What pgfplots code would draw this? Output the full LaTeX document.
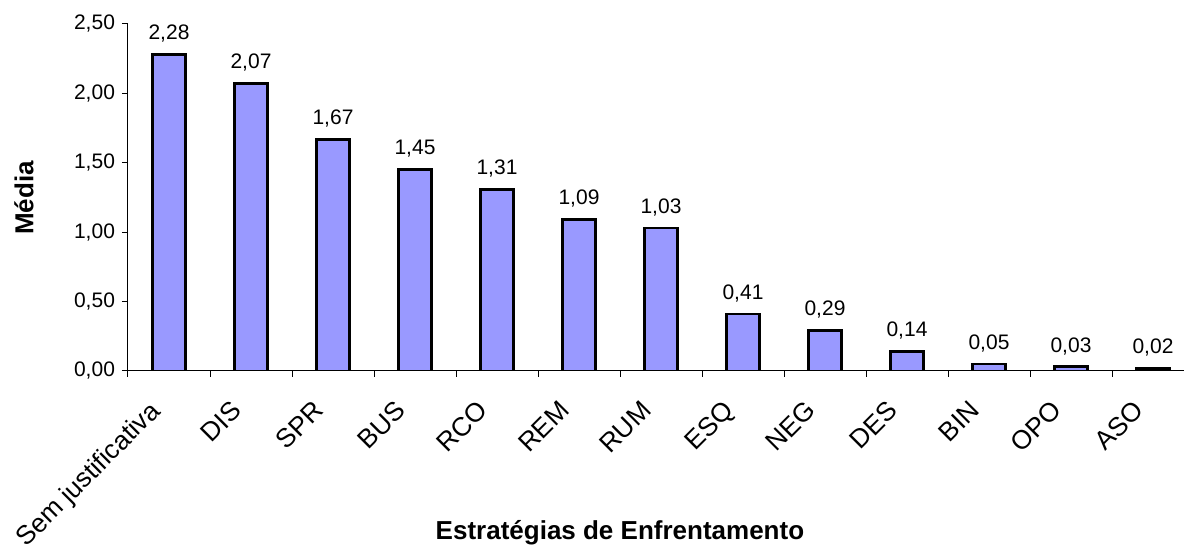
\documentclass[border=0pt]{standalone}
\usepackage{pgfplots}
\pgfplotsset{compat=1.18}
\usepackage{fontspec}
\setmainfont{Liberation Sans}
\definecolor{barblue}{HTML}{9999FF}
\begin{document}
\begin{tikzpicture}
\path[use as bounding box] (0,0) rectangle (592pt,274.5pt);
\begin{axis}[
  at={(64pt,89pt)}, anchor=south west,
  scale only axis, width=533pt, height=173.5pt,
  ybar, bar width=16.5pt,
  xmin=-0.5, xmax=12.5, ymin=0, ymax=2.5,
  axis x line*=bottom, axis y line*=left,
  axis line style={black, line width=0.5pt},
  tick style={black, line width=0.5pt},
  tick align=outside, major tick length=3pt,
  xtick={-0.5,0.5,...,12.5},
  x tick label as interval=true,
  xticklabels={Sem justificativa,DIS,SPR,BUS,RCO,REM,RUM,ESQ,NEG,DES,BIN,OPO,ASO},
  x tick label style={xshift=-10.5pt, yshift=-9.5pt, rotate=45, anchor=north east, font=\fontsize{13.2}{15}\selectfont, inner sep=1pt},
  ytick={0,0.5,...,2.5},
  yticklabel style={font=\fontsize{10.5}{12}\selectfont, /pgf/number format/.cd, fixed, fixed zerofill, precision=2, use comma},
  /pgf/number format/assume math mode=true,
  nodes near coords,
  nodes near coords style={font=\fontsize{10.5}{12}\selectfont, yshift=2pt, /pgf/number format/.cd, fixed, fixed zerofill, precision=2, use comma},
  xlabel={Estratégias de Enfrentamento},
  ylabel={Média},
  xlabel style={font=\bfseries\fontsize{13}{15}\selectfont, at={(axis description cs:0.4615,-0.467)}, anchor=center},
  ylabel style={font=\bfseries\fontsize{13}{15}\selectfont, at={(axis description cs:-0.0976,0.4986)}, anchor=center},
]
\addplot[fill=barblue, draw=black, line width=1.4pt] coordinates {
(0,2.28) (1,2.07) (2,1.67) (3,1.45) (4,1.31) (5,1.09) (6,1.03)
(7,0.41) (8,0.29) (9,0.14) (10,0.05) (11,0.03) (12,0.02)};
\end{axis}
\end{tikzpicture}
\end{document}
